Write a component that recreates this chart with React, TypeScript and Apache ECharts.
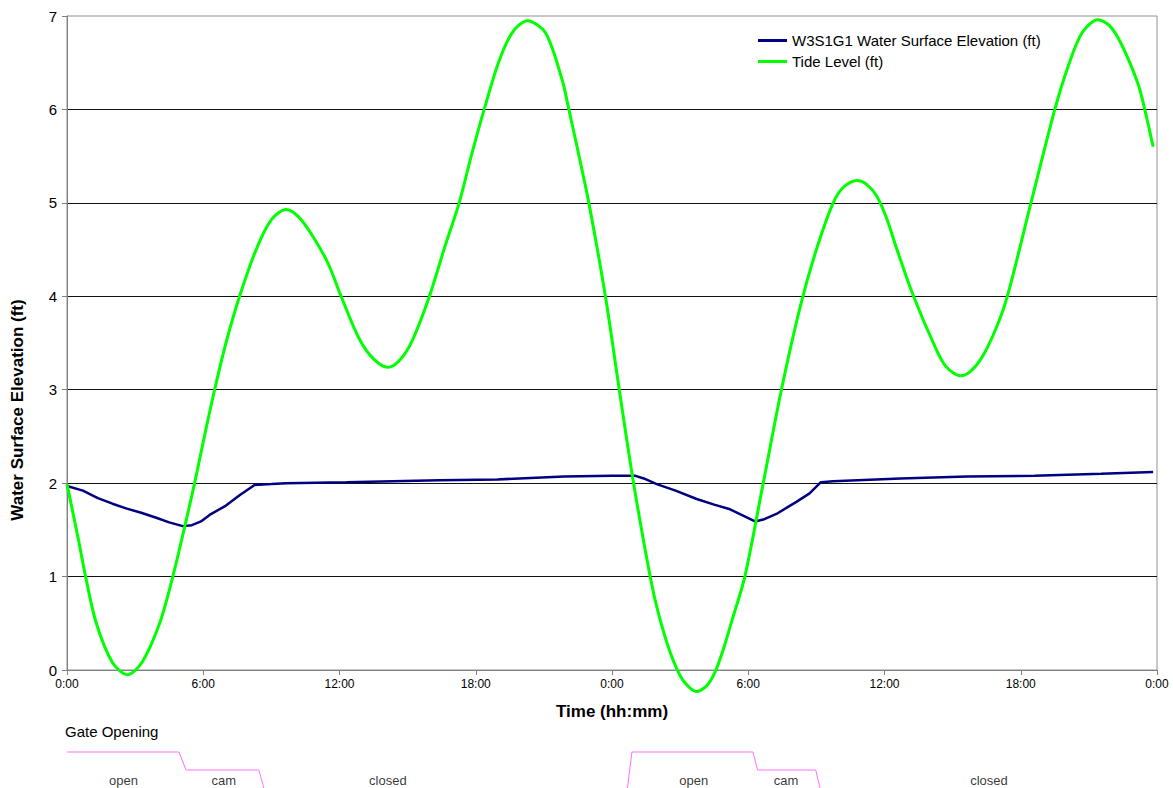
import React, { useEffect, useRef } from "react";
import * as echarts from "echarts";

const FONT = "'Liberation Sans', Arial, sans-serif";

// X tick labels: every 6 hours over two days
const xTickHours = [0, 6, 12, 18, 24, 30, 36, 42, 48];
const yTicks = [0, 1, 2, 3, 4, 5, 6, 7];

const seriesNames = ["W3S1G1 Water Surface Elevation (ft)", "Tide Level (ft)"];

// Tide level (ft), hours since start
const tideHours = [
  0, 0.5, 0.82, 1.29, 2.0, 2.66, 3.3, 4.08, 4.66, 5.15, 5.62, 6.05, 6.5, 7.0, 7.6, 8.33, 9.0, 9.65,
  10.2, 10.83, 11.5, 12.07, 12.88, 13.5, 14.13, 14.7, 15.23, 15.96, 16.6, 17.27, 17.8, 18.37, 19.0,
  19.6, 20.27, 21.07, 21.8, 22.1, 22.55, 22.98, 23.71, 24.32, 24.95, 25.68, 26.05, 26.56, 27.1,
  27.73, 28.2, 28.54, 28.9, 29.27, 29.85, 30.66, 31.46, 32.3, 33.0, 33.74, 34.2, 34.78, 35.2, 35.66,
  36.1, 36.55, 37.28, 38.17, 38.7, 39.35, 39.8, 40.3, 40.9, 41.41, 42.45, 43.5, 44.07, 44.7, 45.4,
  45.9, 46.43, 47.17, 47.46, 47.83,
];
const tideValues = [
  1.99, 1.4, 1.0, 0.5, 0.08, -0.05, 0.08, 0.5, 1.0, 1.5, 2.0, 2.5, 3.0, 3.5, 4.0, 4.5, 4.82, 4.93,
  4.85, 4.64, 4.35, 4.0, 3.54, 3.33, 3.24, 3.33, 3.54, 4.0, 4.5, 5.0, 5.5, 6.0, 6.5,
  6.82, 6.95, 6.82, 6.32, 6.0, 5.5, 5.0, 4.0, 3.0, 2.0, 1.0, 0.6, 0.19, -0.1,
  -0.23, -0.16, -0.02, 0.22, 0.52, 1.0, 2.0, 3.0, 3.9, 4.5, 5.0, 5.17, 5.24, 5.2, 5.07,
  4.83, 4.5, 4.0, 3.49, 3.25, 3.15, 3.2, 3.35, 3.65, 4.0, 5.0, 6.0, 6.45, 6.82, 6.96,
  6.9, 6.7, 6.27, 6.0, 5.6,
];

// W3S1G1 water surface elevation (ft)
const wseHours = [
  0, 0.7, 1.36, 2.0, 2.6, 3.3, 3.93, 4.5, 5.1, 5.5, 5.9, 6.28, 7.0, 7.6, 8.26, 9.0, 9.65, 12.3,
  14.35, 16.4, 18.95, 21.9, 24.0, 25.0, 25.4, 25.97, 26.8, 27.73, 28.5, 29.2, 30.3, 30.66, 31.24,
  32.12, 32.7, 33.2, 33.74, 36.7, 39.64, 42.6, 45.54, 47.83,
];
const wseValues = [
  1.97, 1.92, 1.84, 1.78, 1.73, 1.68, 1.63, 1.58, 1.54, 1.55, 1.59, 1.66, 1.76, 1.87, 1.98, 1.99, 2.0, 2.01,
  2.02, 2.03, 2.04, 2.07, 2.08, 2.08, 2.05, 1.99, 1.92, 1.83, 1.77, 1.72, 1.59, 1.61, 1.67,
  1.8, 1.89, 2.01, 2.02, 2.05, 2.07, 2.08, 2.1, 2.12,
];

// Gate opening schedule: 2 = open, 1 = cam, 0 = closed (null = break)
const gateHours = [0, 4.93, 5.24, 8.45, 8.67, 16, 24.68, 24.88, 30.21, 30.41, 32.97, 33.16];
const gateLevels = [2, 2, 1, 1, 0, null, 0, 2, 2, 1, 1, 0];

const gateLabelNames = ["open", "cam", "closed", "open", "cam", "closed"];
const gateLabelHours = [2.49, 6.9, 14.13, 27.6, 31.66, 40.6];

export default function App() {
  const ref = useRef<HTMLDivElement>(null);

  useEffect(() => {
    if (!ref.current) return;
    const chart = echarts.init(ref.current, undefined, { renderer: "svg" });

    const tideData = tideHours.map((h, i) => [h, tideValues[i]]);
    const wseData = wseHours.map((h, i) => [h, wseValues[i]]);
    const gateData = gateHours.map((h, i) => (gateLevels[i] === null ? [h, "-"] : [h, gateLevels[i]]));
    const gateLabelData = gateLabelNames.map((n, i) => ({ name: n, value: [gateLabelHours[i], 0.44] }));

    const gridLeft = 67;
    const gridRight = 16;

    chart.setOption({
      animation: false,
      backgroundColor: "#ffffff",
      textStyle: { fontFamily: FONT },
      grid: [
        {
          left: gridLeft,
          right: gridRight,
          top: 16,
          bottom: 118,
          show: true,
          borderColor: "#909090",
          borderWidth: 1,
        },
        { left: gridLeft, right: gridRight, top: 752, height: 36 },
      ],
      legend: {
        orient: "vertical",
        left: 753,
        top: 28,
        data: seriesNames,
        icon: "rect",
        itemWidth: 29,
        itemHeight: 3,
        itemGap: 6,
        textStyle: { fontFamily: FONT, fontSize: 15, color: "#000" },
      },
      graphic: [
        {
          type: "text",
          left: 65,
          top: 724,
          style: { text: "Gate Opening", fontFamily: FONT, fontSize: 15, fill: "#000" },
        },
      ],
      xAxis: [
        {
          type: "value",
          gridIndex: 0,
          min: xTickHours[0],
          max: xTickHours[xTickHours.length - 1],
          interval: 6,
          name: "Time (hh:mm)",
          nameLocation: "middle",
          nameGap: 33,
          nameTextStyle: { fontFamily: FONT, fontSize: 17, fontWeight: "bold", color: "#000" },
          axisLine: { show: true, lineStyle: { color: "#808080", width: 1 } },
          axisTick: { show: true, length: 5, lineStyle: { color: "#808080" } },
          axisLabel: {
            fontFamily: FONT,
            fontSize: 12,
            color: "#000",
            margin: 8,
            formatter: (v: number) => `${v % 24}:00`,
          },
          splitLine: { show: false },
        },
        {
          type: "value",
          gridIndex: 1,
          min: xTickHours[0],
          max: xTickHours[xTickHours.length - 1],
          show: false,
        },
      ],
      yAxis: [
        {
          type: "value",
          gridIndex: 0,
          min: yTicks[0],
          max: yTicks[yTicks.length - 1],
          interval: 1,
          name: "Water Surface Elevation (ft)",
          nameLocation: "middle",
          nameGap: 41,
          nameTextStyle: {
            fontFamily: FONT,
            fontSize: 17,
            fontWeight: "bold",
            color: "#000",
            padding: [0, 134, 0, 0],
          },
          axisLine: { show: true, lineStyle: { color: "#808080", width: 1 } },
          axisTick: { show: true, length: 5, lineStyle: { color: "#808080" } },
          axisLabel: { fontFamily: FONT, fontSize: 15, color: "#000", margin: 10 },
          splitLine: { show: true, showMaxLine: false, lineStyle: { color: "#111", width: 1 } },
        },
        {
          type: "value",
          gridIndex: 1,
          min: 0,
          max: 2,
          show: false,
        },
      ],
      series: [
        {
          name: seriesNames[0],
          type: "line",
          xAxisIndex: 0,
          yAxisIndex: 0,
          data: wseData,
          showSymbol: false,
          lineStyle: { color: "#000080", width: 2.5 },
          itemStyle: { color: "#000080" },
        },
        {
          name: seriesNames[1],
          type: "line",
          xAxisIndex: 0,
          yAxisIndex: 0,
          data: tideData,
          smooth: 0.3,
          clip: false,
          showSymbol: false,
          lineStyle: { color: "#00ff00", width: 3 },
          itemStyle: { color: "#00ff00" },
        },
        {
          name: "Gate Opening",
          type: "line",
          xAxisIndex: 1,
          yAxisIndex: 1,
          data: gateData,
          showSymbol: false,
          clip: false,
          lineStyle: { color: "#ff70ff", width: 1 },
          itemStyle: { color: "#ff70ff" },
        },
        {
          name: "Gate Labels",
          type: "scatter",
          xAxisIndex: 1,
          yAxisIndex: 1,
          data: gateLabelData,
          symbolSize: 0,
          label: {
            show: true,
            position: "inside",
            formatter: "{b}",
            fontFamily: FONT,
            fontSize: 13,
            color: "#000",
          },
        },
      ],
    });

    return () => chart.dispose();
  }, []);

  return (
    <div
      ref={ref}
      style={{ position: "absolute", left: 0, top: 0, width: 1173, height: 788 }}
    />
  );
}
